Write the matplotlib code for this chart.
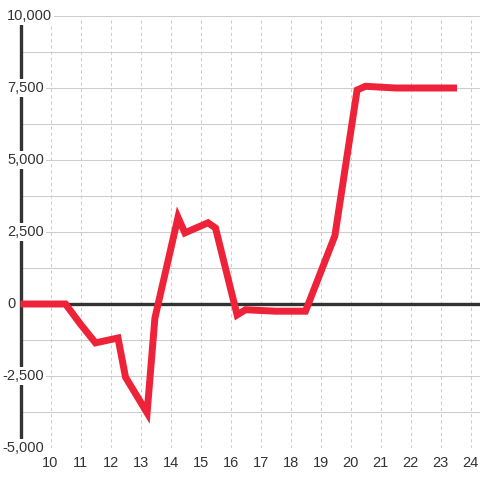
import matplotlib.pyplot as plt
import matplotlib.transforms as mtransforms

plt.rcParams['font.family'] = ['Liberation Sans', 'DejaVu Sans']

# series
x_vals = [9.0, 10.5, 11.0, 11.5, 12.25, 12.5, 13.22, 13.48, 14.25, 14.48,
          15.25, 15.5, 16.22, 16.5, 17.5, 18.5, 19.48, 20.22, 20.5, 21.5,
          22.5, 23.55]
y_vals = [0, 0, -700, -1350, -1180, -2540, -3780, -490, 3010, 2470,
          2820, 2640, -380, -200, -250, -250, 2370, 7430, 7560, 7500,
          7500, 7500]

x_ticks = list(range(10, 25))
y_grid = list(range(-5000, 10001, 1250))
y_labels = [-5000, -2500, 0, 2500, 5000, 7500, 10000]

fig = plt.figure(figsize=(4.8, 4.8), dpi=100)
ax = fig.add_axes([20.5 / 480, 1 - 448 / 480, 1 - 20.5 / 480, 432 / 480])

ax.set_xlim(9, 9 + 459.5 / 30)
ax.set_ylim(-5000, 10000)

ax.set_xticks(x_ticks)
ax.set_xticklabels([str(v) for v in x_ticks], fontsize=10.5, color='#333333')
ax.set_yticks(y_grid)
ax.set_yticklabels([])
ax.tick_params(axis='both', length=0)
ax.tick_params(axis='x', pad=6)

ax.grid(axis='y', color='#cccccc', lw=0.75, ls='-', zorder=0)
ax.grid(axis='x', color='#cccccc', lw=0.75, ls=(0, (3, 3)), zorder=0)

for side in ['top', 'right', 'bottom']:
    ax.spines[side].set_visible(False)
ax.spines['left'].set_color('#333333')
ax.spines['left'].set_linewidth(2.4)

ax.axhline(0, color='#333333', lw=2.4, zorder=2)

ax.plot(x_vals, y_vals, color='#ee2238', lw=5, zorder=4,
        solid_joinstyle='miter', solid_capstyle='butt', clip_on=False)

label_trans = mtransforms.blended_transform_factory(fig.transFigure, ax.transData)
for v in y_labels:
    ax.text(7 / 480 if v >= 0 else 2 / 480, v, f'{v:,}',
            transform=label_trans, ha='left', va='center',
            fontsize=10.5, color='#333333', zorder=6,
            bbox=dict(facecolor='white', edgecolor='none', pad=1.5))

fig.savefig('out.png', dpi=100)
